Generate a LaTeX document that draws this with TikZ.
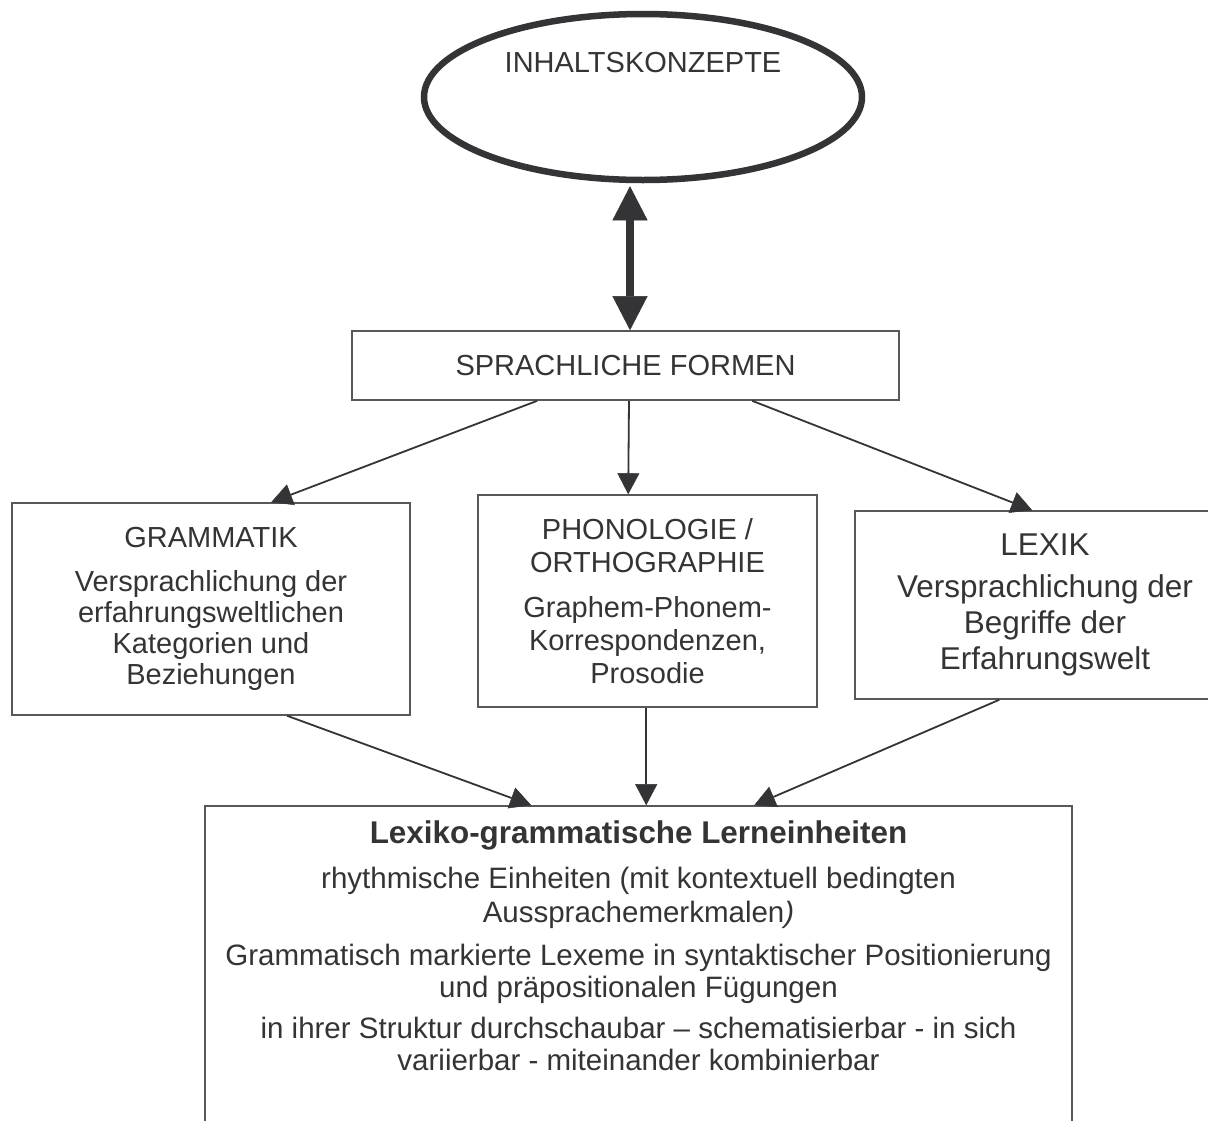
\documentclass[tikz,border=0pt]{standalone}
\usepackage{fontspec}
\setmainfont{Liberation Sans}
\usetikzlibrary{arrows.meta,shapes.geometric,calc}
\definecolor{ink}{HTML}{343437}
\definecolor{boxline}{HTML}{58585A}
\begin{document}
\begin{tikzpicture}[x=1pt,y=-1pt,
  box/.style={draw=boxline,line width=1.6pt,rectangle,align=center,text=ink,inner sep=0pt},
  conn/.style={draw=ink,line width=1.8pt,-{Triangle[length=21pt,width=22pt,line width=0.5pt]}},
  dbl/.style={draw=ink,line width=8pt,{Triangle[length=34pt,width=35pt,line width=0.5pt]}-{Triangle[length=34pt,width=35pt,line width=0.5pt]}},
  fA/.style={font=\fontsize{29}{31}\selectfont},
  fB/.style={font=\fontsize{29}{33}\selectfont},
  fC/.style={font=\fontsize{31.5}{36}\selectfont},
  fD/.style={font=\fontsize{29.5}{32}\selectfont,text=ink,anchor=base,inner sep=0pt}
]
\useasboundingbox (0,0) rectangle (1208,1120);
\clip (0,0) rectangle (1208,1120);
\fill[white] (0,0) rectangle (1208,1120);

% top ellipse
\node[ellipse,draw=ink,line width=6.5pt,minimum width=438pt,minimum height=166pt] (inh) at (643,97) {};
\node[fA,text=ink,anchor=base,inner sep=0pt] (inhtxt) at (643,72) {INHALTSKONZEPTE};

% boxes
\node[box,fA,minimum width=547pt,minimum height=69pt] (sf) at (625.5,365.5) {SPRACHLICHE FORMEN};
\node[box,fA,minimum width=398pt,minimum height=212pt] (gram) at (211,609)
  {GRAMMATIK\\[13pt]Versprachlichung der\\erfahrungsweltlichen\\Kategorien und\\Beziehungen};
\node[box,fB,minimum width=339pt,minimum height=212pt] (pho) at (647.5,601)
  {PHONOLOGIE /\\ORTHOGRAPHIE\\[12pt]Graphem-Phonem-\\Korrespondenzen,\\Prosodie};
\node[box,fC,minimum width=380pt,minimum height=188pt] (lex) at (1045,605)
  {LEXIK\\[6pt]Versprachlichung der\\Begriffe der\\Erfahrungswelt};
\node[box,minimum width=867pt,minimum height=334pt] (lern) at (638.5,973) {};

% bottom box text
\node[fD,font=\fontsize{31.4}{32}\selectfont\bfseries] (l1) at (638.5,843) {Lexiko-grammatische Lerneinheiten};
\node[fD] (l2) at (638.5,888) {rhythmische Einheiten (mit kontextuell bedingten};
\node[fD] (l3) at (638.5,922) {Aussprachemerkmalen\textit{)}};
\node[fD] (l4) at (638.5,965) {Grammatisch markierte Lexeme in syntaktischer Positionierung};
\node[fD] (l5) at (638.5,997) {und präpositionalen Fügungen};
\node[fD] (l6) at (638.5,1038) {in ihrer Struktur durchschaubar – schematisierbar - in sich};
\node[fD] (l7) at (638.5,1070) {variierbar - miteinander kombinierbar};

% connectors
\draw[dbl] ([xshift=-13pt,yshift=-3pt]inh.south) -- ([xshift=4.5pt]sf.north);
\draw[conn] ($(sf.south west)+(186,0)$) -- ($(gram.north west)+(260,0)$);
\draw[conn] ($(sf.south)+(3.5,0)$) -- ($(pho.north west)+(151,0)$);
\draw[conn] ($(sf.south west)+(401,0)$) -- ($(lex.north west)+(178,0)$);
\draw[conn] ($(gram.south west)+(276,0)$) -- ($(lern.north west)+(327,0)$);
\draw[conn] ($(pho.south west)+(169,0)$) -- ($(lern.north west)+(442,0)$);
\draw[conn] ($(lex.south west)+(145,0)$) -- ($(lern.north west)+(550,0)$);
\end{tikzpicture}
\end{document}
